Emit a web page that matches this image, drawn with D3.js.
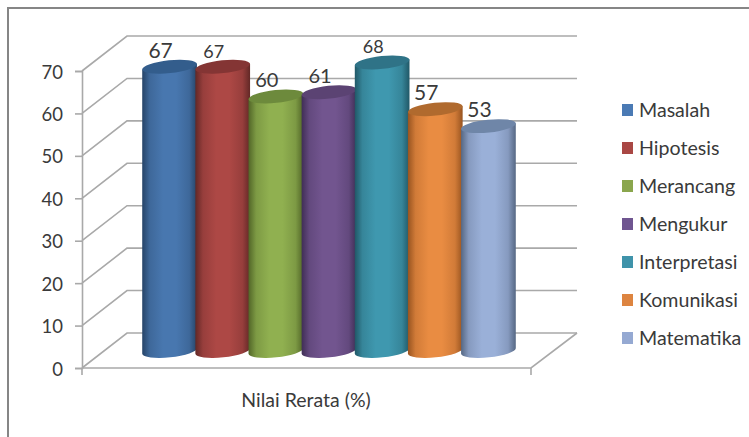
<!DOCTYPE html>
<html>
<head>
<meta charset="utf-8">
<script src="https://cdn.jsdelivr.net/npm/d3@7"></script>
<style>
    html, body {margin: 0; padding: 0; background: #fff;}
    svg {display: block;}
    text {font-family: Lato, "Open Sans", sans-serif; fill: #3a3a3a;}
</style>
</head>
<body>
<div id="chart"></div>
<script>
const categories=["Masalah", "Hipotesis", "Merancang", "Mengukur", "Interpretasi", "Komunikasi", "Matematika"];
const values=[67, 67, 60, 61, 68, 57, 53];
const yTicks=[0, 10, 20, 30, 40, 50, 60, 70];
const axisTitle="Nilai Rerata (%)";

// body light, body edge, top ellipse, legend swatch
const lightColors=["#4877af", "#ad4845", "#90b050", "#72558f", "#3f98af", "#e98c42", "#9ab0d8"];
const edgeColors=["#264468", "#622826", "#526628", "#402e56", "#215867", "#985420", "#566884"];
const topColors=["#335d8c", "#843534", "#6d8a3c", "#5b4373", "#2f7387", "#b06a2e", "#6f86a8"];
const legendColors=["#4a7ab4", "#a94744", "#8aa64d", "#6f5590", "#3f93aa", "#dd8440", "#95a9d2"];
const labelSizes=[21, 18, 20, 20, 18, 21, 21];

const width=749;
const height=437;
const frontLeft=82, frontRight=531, frontBottom=368, frontTop=71;
const depthX=45, depthY=35;   // offset of the back wall
const barLift=17;             // cylinders stand a bit behind the front edge
const rx=27.5, ry=6.4, tilt=6;

const svg=d3.select("#chart").append("svg")
    .attr("width", width)
    .attr("height", height);

const y=d3.scaleLinear().domain([0, 70]).range([frontBottom, frontTop]);
const x=d3.scaleBand().domain(categories).range([143, 515]).padding(0);
const legendY=d3.scalePoint().domain(categories).range([110, 338]);

// outer chart frame, only top and left show in the crop
svg.append("path")
    .attr("d", `M8,${height}V8H${width}`)
    .attr("fill", "none")
    .attr("stroke", "#868686")
    .attr("stroke-width", 2);

const gridColor="#a9a9a9";
const grid=svg.append("g")
    .attr("fill", "none")
    .attr("stroke", gridColor)
    .attr("stroke-width", 1.6);

grid.selectAll(".wall")
    .data(yTicks)
    .enter().append("path")
    .attr("class", "wall")
    .attr("d", d => `M${frontLeft},${y(d)}L${frontLeft+depthX},${y(d)-depthY}H${frontRight+depthX+1}`);

// floor
grid.append("path")
    .attr("d", `M${frontLeft},${frontBottom}H${frontRight}L${frontRight+depthX+1},${frontBottom-depthY}`);
grid.append("path")
    .attr("d", `M${frontLeft},${frontBottom}V375M${frontRight},${frontBottom}V375`);

const yAxis=svg.append("g")
    .attr("transform", `translate(${frontLeft},0)`)
    .call(d3.axisLeft(y).tickValues(yTicks).tickSize(7).tickPadding(12));
yAxis.selectAll("path, line").attr("stroke", gridColor).attr("stroke-width", 1.6);
yAxis.selectAll("text")
    .attr("font-family", "Lato")
    .attr("font-size", 18.5)
    .attr("dy", "0.38em")
    .style("fill", "#3a3a3a");

const defs=svg.append("defs");
categories.forEach((c, i) => {
    const mix=d3.interpolateRgb(edgeColors[i], lightColors[i]);
    const g=defs.append("linearGradient").attr("id", "cyl"+i);
    g.append("stop").attr("offset", "0%").attr("stop-color", edgeColors[i]);
    g.append("stop").attr("offset", "14%").attr("stop-color", mix(0.7));
    g.append("stop").attr("offset", "38%").attr("stop-color", lightColors[i]);
    g.append("stop").attr("offset", "62%").attr("stop-color", lightColors[i]);
    g.append("stop").attr("offset", "86%").attr("stop-color", mix(0.7));
    g.append("stop").attr("offset", "100%").attr("stop-color", edgeColors[i]);
});

const offX=rx*Math.cos(tilt*Math.PI/180);
const offY=rx*Math.sin(tilt*Math.PI/180);
const baseY=y(0)-barLift;

const bars=svg.selectAll(".bar")
    .data(values)
    .enter().append("g")
    .attr("class", "bar");

bars.append("path")
    .attr("fill", (d, i) => `url(#cyl${i})`)
    .attr("d", (d, i) => {
        const cx=x(categories[i])+x.bandwidth()/2;
        const topY=y(d)-barLift;
        return `M${cx-offX},${topY+offY}V${baseY+offY}`
            +`A${rx},${ry} ${-tilt} 0 0 ${cx+offX},${baseY-offY}`
            +`V${topY-offY}Z`;
    });

bars.append("ellipse")
    .attr("rx", rx)
    .attr("ry", ry)
    .attr("fill", (d, i) => topColors[i])
    .attr("transform", (d, i) => `translate(${x(categories[i])+x.bandwidth()/2},${y(d)-barLift}) rotate(${-tilt})`);

// labels sit on top of every cylinder
svg.selectAll(".value")
    .data(values)
    .enter().append("text")
    .attr("class", "value")
    .attr("text-anchor", "middle")
    .attr("x", (d, i) => x(categories[i])+x.bandwidth()/2-9)
    .attr("y", d => y(d)-barLift-9)
    .attr("font-size", (d, i) => labelSizes[i])
    .text(d => d);

svg.append("text")
    .attr("x", 306)
    .attr("y", 407)
    .attr("text-anchor", "middle")
    .attr("font-size", 19.5)
    .text(axisTitle);

const legend=svg.selectAll(".legend")
    .data(categories)
    .enter().append("g")
    .attr("class", "legend")
    .attr("transform", d => `translate(622,${legendY(d)})`);

legend.append("rect")
    .attr("y", -6)
    .attr("width", 11)
    .attr("height", 12)
    .attr("fill", (d, i) => legendColors[i]);

legend.append("text")
    .attr("x", 17)
    .attr("y", 6.5)
    .attr("font-size", 19.6)
    .text(d => d);
</script>
</body>
</html>
